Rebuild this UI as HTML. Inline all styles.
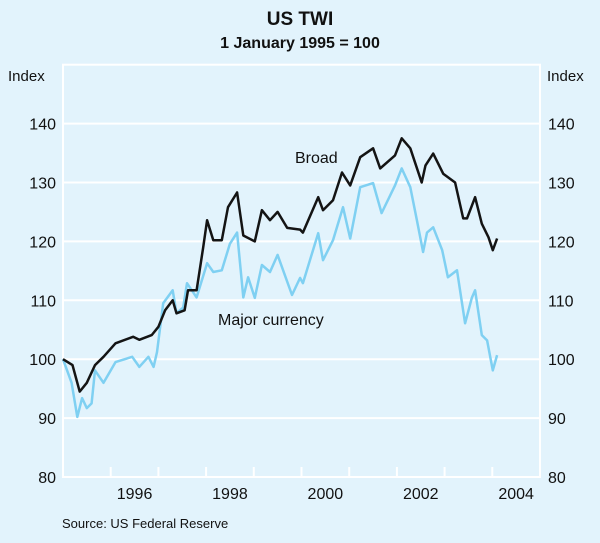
<!DOCTYPE html>
<html><head><meta charset="utf-8"><style>
body{margin:0;background:#e2f3fc}
svg{display:block;font-family:"Liberation Sans",Arial,sans-serif}
</style></head><body>
<svg width="600" height="543" viewBox="0 0 600 543">
<rect width="600" height="543" fill="#e2f3fc"/>
<text x="300" y="25" text-anchor="middle" font-size="19" font-weight="bold" fill="#111">US TWI</text>
<text x="300" y="48" text-anchor="middle" font-size="16" font-weight="bold" fill="#111">1 January 1995 = 100</text>
<text x="8" y="81" font-size="15" fill="#111">Index</text>
<text x="547" y="81" font-size="15" fill="#111">Index</text>
<g id="grid"></g>
<g id="lines"></g>
<text x="295" y="163" font-size="16" fill="#111">Broad</text>
<text x="218" y="325" font-size="16" fill="#111">Major currency</text>
<text x="62" y="528" font-size="13" fill="#111">Source: US Federal Reserve</text>
</svg>
<script>
const yTicks=[80,90,100,110,120,130,140];
const yearLabels=[1996,1998,2000,2002,2004];
const broadT=[1995.0,1995.2,1995.35,1995.5,1995.67,1995.85,1996.1,1996.47,1996.6,1996.86,1997.0,1997.14,1997.3,1997.38,1997.55,1997.62,1997.8,1997.94,1998.02,1998.15,1998.33,1998.46,1998.65,1998.78,1999.02,1999.17,1999.34,1999.5,1999.7,1999.97,2000.03,2000.35,2000.45,2000.66,2000.85,2001.02,2001.23,2001.5,2001.65,2001.96,2002.1,2002.28,2002.52,2002.6,2002.76,2002.97,2003.22,2003.39,2003.47,2003.64,2003.78,2003.92,2004.01,2004.1];
const broadV=[100,99,94.5,96,99,100.4,102.7,103.8,103.3,104.1,105.5,108.3,110,107.8,108.3,111.7,111.7,119,123.6,120.2,120.2,125.8,128.3,121,120,125.3,123.6,125,122.3,122,121.5,127.5,125.3,127,131.7,129.5,134.3,135.8,132.4,134.6,137.5,135.8,130,132.9,134.9,131.5,130,123.9,123.9,127.5,123,120.7,118.5,120.5];
const majorT=[1995.0,1995.18,1995.3,1995.4,1995.5,1995.6,1995.67,1995.85,1996.1,1996.45,1996.6,1996.79,1996.9,1996.97,1997.1,1997.3,1997.38,1997.52,1997.6,1997.8,1998.02,1998.15,1998.33,1998.5,1998.65,1998.78,1998.88,1999.02,1999.17,1999.34,1999.5,1999.8,1999.97,2000.03,2000.35,2000.45,2000.66,2000.87,2001.02,2001.23,2001.5,2001.68,2001.96,2002.1,2002.28,2002.42,2002.55,2002.63,2002.76,2002.95,2003.07,2003.26,2003.43,2003.57,2003.64,2003.78,2003.89,2004.01,2004.1];
const majorV=[100,96,90.2,93.4,91.7,92.5,98.1,96,99.5,100.4,98.7,100.4,98.7,101.2,109.5,111.7,107.8,108.8,112.9,110.5,116.3,114.8,115.1,119.6,121.5,110.5,113.9,110.4,116,114.8,117.7,110.9,113.8,112.9,121.4,116.8,120.2,125.8,120.5,129.2,129.9,124.8,129.5,132.4,129.2,123.6,118.2,121.5,122.4,118.5,113.9,115.1,106.1,110.4,111.7,104.1,103.2,98.1,100.7];
const L=63,R=540,T=64.7,B=477;
const X=t=>L+(t-1995)*(R-L)/10;
const Y=v=>B-(v-80)*(B-T)/70;
const NS='http://www.w3.org/2000/svg';
const g=document.getElementById('grid'),lg=document.getElementById('lines');
function mk(tag,attrs,parent){const e=document.createElementNS(NS,tag);for(const k in attrs)e.setAttribute(k,attrs[k]);parent.appendChild(e);return e;}
mk('rect',{x:L,y:T,width:R-L,height:B-T,fill:'none',stroke:'#fff','stroke-width':2},g);
yTicks.forEach(v=>{
 const ln=mk('line',{x1:L,x2:R,y1:Y(v),y2:Y(v),stroke:'#fff','stroke-width':2},g);
 
 
 const a=mk('text',{x:L-7,y:Y(v)+6,'text-anchor':'end','font-size':16,fill:'#111'},g);a.textContent=v;
 
 
 const b=mk('text',{x:R+8,y:Y(v)+6,'font-size':16,fill:'#111'},g);b.textContent=v;
 
 
});
for(let y=1996;y<=2004;y++){const t=mk('line',{x1:X(y),x2:X(y),y1:B,y2:B-10,stroke:'#fff','stroke-width':2},g);
 
 }
yearLabels.forEach(y=>{const t=mk('text',{x:X(y+0.5),y:B+22,'text-anchor':'middle','font-size':16,fill:'#111'},g);t.textContent=y;
 
 });
function line(ts,vs,col,name){const p=mk('polyline',{points:ts.map((t,i)=>X(t).toFixed(1)+','+Y(vs[i]).toFixed(1)).join(' '),fill:'none',stroke:col,'stroke-width':2.5,'stroke-linejoin':'round'},lg);
 
 }
line(majorT,majorV,'#7fd0f2','major-currency-line');
line(broadT,broadV,'#141414','broad-line');
</script>
</body></html>
